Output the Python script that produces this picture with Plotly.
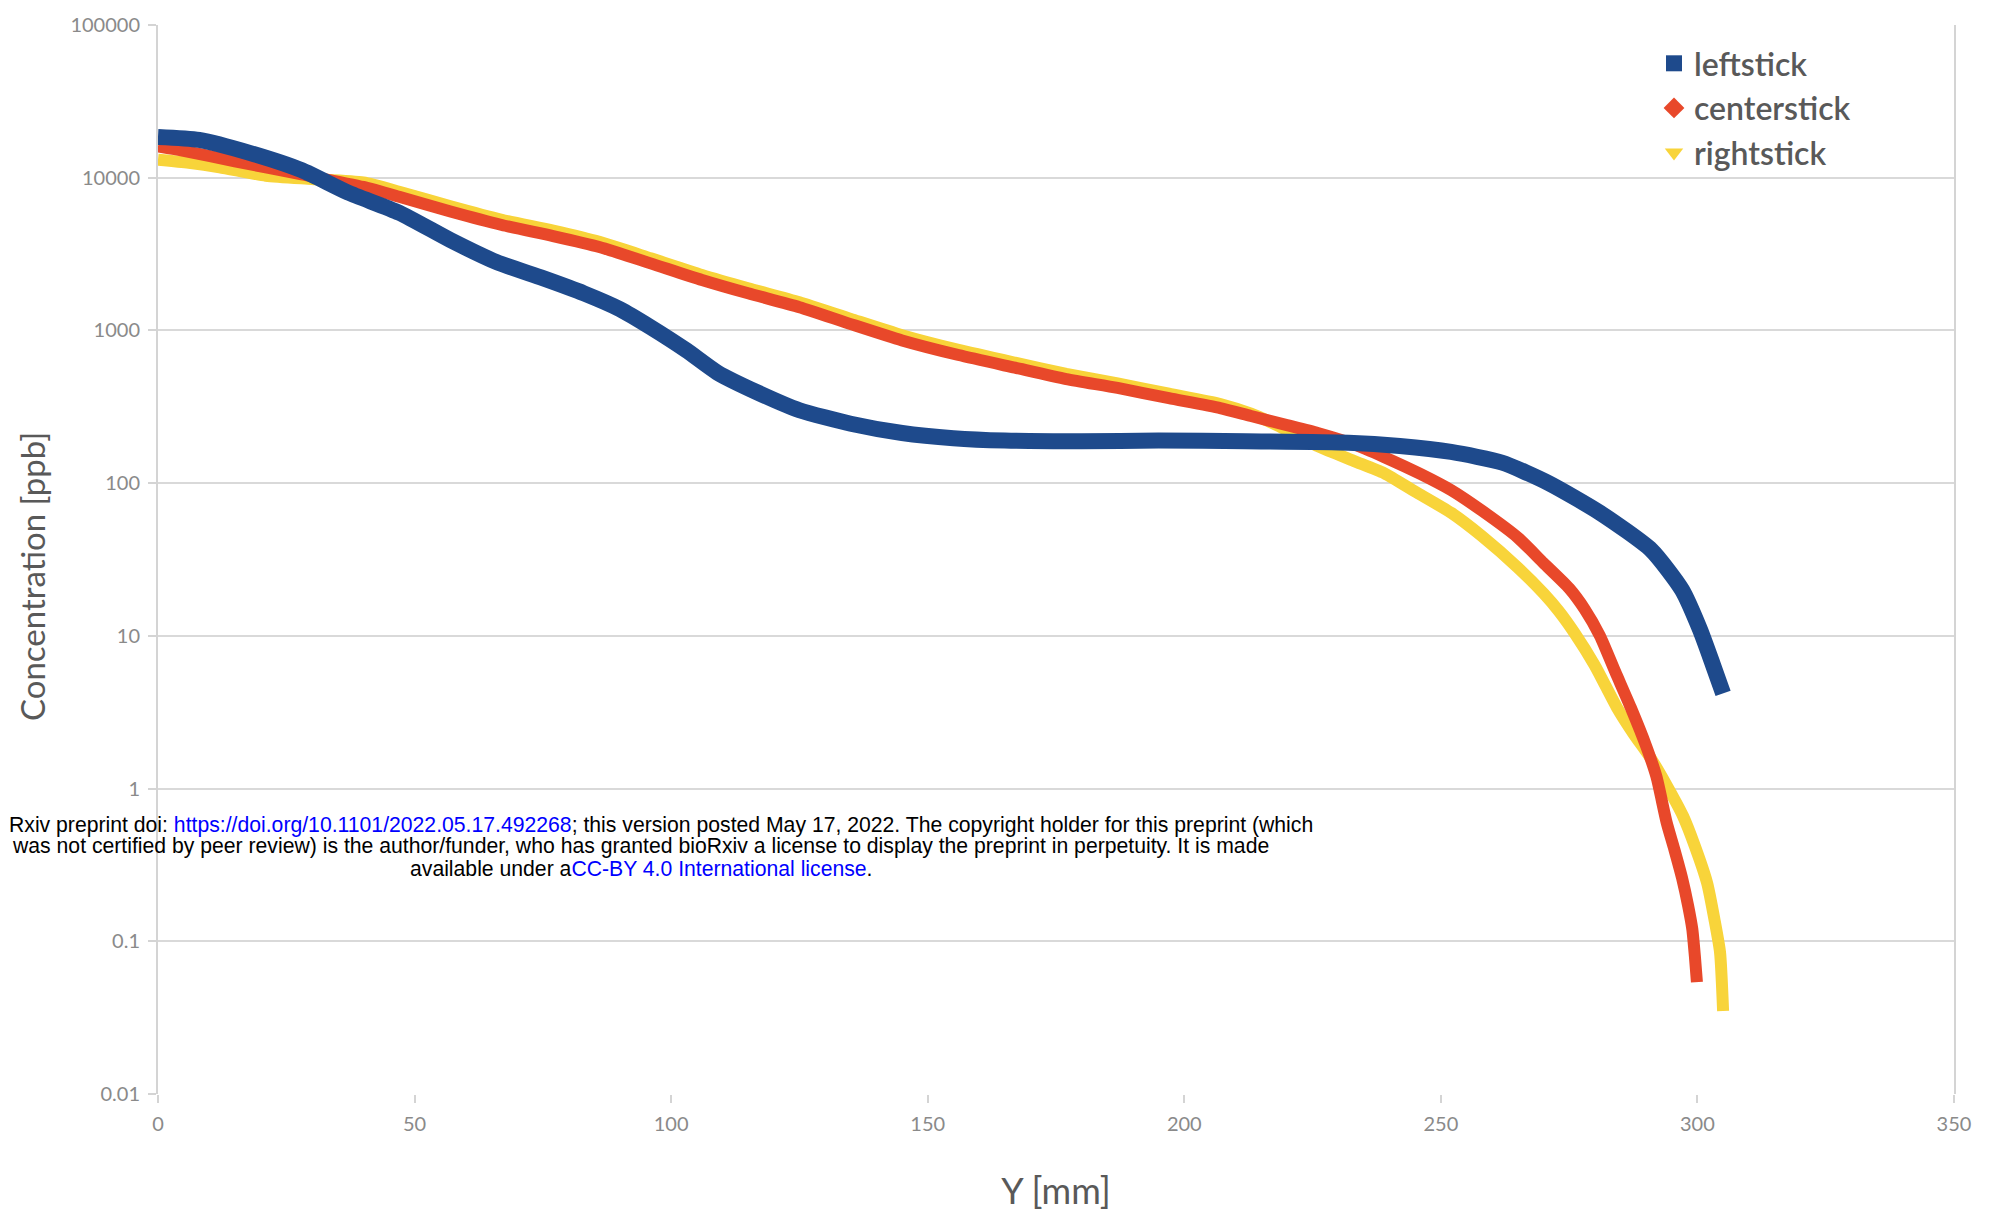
import plotly.graph_objects as go

# ---------------- data ----------------
series_names = ["leftstick", "centerstick", "rightstick"]

left_x = [0, 8, 18, 28, 37, 47, 57, 66, 75, 83, 90, 96, 103, 109, 117, 125, 135, 145, 155, 165,
          180, 195, 212, 232, 242, 252, 262, 271, 281, 291, 297, 300.5, 303, 305]
left_y = [18500, 17700, 14500, 11200, 8000, 5900, 3900, 2800, 2200, 1750, 1380, 1050, 740, 530, 390,
          300, 245, 213, 197, 190, 188, 190, 188, 184, 175, 160, 136, 100, 64, 36.5, 20, 11, 6.5, 4.2]

center_x = [0, 5, 15, 28, 40, 47, 57, 67, 77, 86, 96, 106, 115, 125, 135, 145, 156, 167, 177, 187,
            197, 207, 213, 220, 226, 233, 239, 246, 252, 258, 265, 270, 275, 278, 281, 284, 287,
            290, 292, 294, 295.5, 297, 298.2, 299, 299.5, 299.9]
center_y = [16000, 15000, 12800, 10500, 8700, 7500, 6000, 4900, 4150, 3520, 2750, 2140, 1750, 1420,
            1100, 860, 690, 570, 480, 420, 360, 310, 275, 240, 213, 180, 148, 115, 90, 66, 44, 30,
            20.5, 15, 10, 5.8, 3.4, 1.9, 1.2, 0.6, 0.4, 0.26, 0.17, 0.12, 0.08, 0.054]

right_x = [0, 6, 12, 21, 30, 40, 47, 57, 67, 77, 86, 96, 106, 115, 125, 135, 145, 156, 167, 177,
           187, 197, 207, 213, 218, 226, 233, 239, 245, 252, 258, 265, 270, 273, 276, 280, 284.3,
           287.5, 290.8, 294, 297.2, 299.5, 301.9, 303.3, 304.4, 305]
right_y = [13100, 12500, 11700, 10300, 9800, 9300, 8100, 6500, 5300, 4500, 3800, 2970, 2310, 1890,
           1530, 1190, 930, 745, 615, 520, 450, 385, 330, 285, 240, 175, 140, 116, 88, 64, 45, 28,
           19, 14.5, 10.5, 6.4, 3.4, 2.3, 1.6, 1.05, 0.66, 0.42, 0.24, 0.14, 0.085, 0.035]

x_tick_vals = [0, 50, 100, 150, 200, 250, 300, 350]
x_tick_text = ["0", "50", "100", "150", "200", "250", "300", "350"]
y_tick_vals = [0.01, 0.1, 1, 10, 100, 1000, 10000, 100000]
y_tick_text = ["0.01", "0.1", "1", "10", "100", "1000", "10000", "100000"]

x_title = "Y [mm]"
y_title = "Concentration [ppb]"

watermark_lines = [
    'Rxiv preprint doi: <span style="color:#0000ff">https://doi.org/10.1101/2022.05.17.492268</span>; '
    'this version posted May 17, 2022. The copyright holder for this preprint (which',
    'was not certified by peer review) is the author/funder, who has granted bioRxiv a license to '
    'display the preprint in perpetuity. It is made',
    'available under a<span style="color:#0000ff">CC-BY 4.0 International license</span>.',
]

# ---------------- styles ----------------
colors = {"leftstick": "#1E4A8C", "centerstick": "#E8482A", "rightstick": "#F8D43A"}
symbols = {"leftstick": "square", "centerstick": "diamond", "rightstick": "triangle-down"}
widths = {"leftstick": 16, "centerstick": 12, "rightstick": 12}
data = {
    "leftstick": (left_x, left_y),
    "centerstick": (center_x, center_y),
    "rightstick": (right_x, right_y),
}

W, H = 1990, 1216
BODY = 8  # default page margin around the plot div
ML, MR, MT, MB = 150, 44, 17, 130
PW, PH = W - ML - MR, H - MT - MB

fig = go.Figure()

# draw order: yellow at bottom, blue on top
for name in ["rightstick", "centerstick", "leftstick"]:
    xs, ys = data[name]
    fig.add_trace(go.Scatter(
        x=xs, y=ys, mode="lines", name=name, showlegend=False,
        line=dict(color=colors[name], width=widths[name], shape="spline", smoothing=0.6),
        hoverinfo="x+y+name",
    ))

# legend entries (markers only)
for name in series_names:
    fig.add_trace(go.Scatter(
        x=[None], y=[None], mode="markers", name=name, legendgroup=name,
        marker=dict(color=colors[name], symbol=symbols[name], size=18),
    ))


def px_x(page_x):
    return (page_x - BODY - ML) / PW


def px_y(page_y):
    return 1 - (page_y - BODY - MT) / PH


annotations = []
line_pos = [(7, 825), (10, 846), (408, 868)]
for txt, (xp, yp) in zip(watermark_lines, line_pos):
    annotations.append(dict(
        text=txt, xref="paper", yref="paper", x=px_x(xp), y=px_y(yp),
        xanchor="left", yanchor="middle", showarrow=False,
        font=dict(family="Liberation Sans, Arial, sans-serif", size=21.2, color="#000000"),
    ))

title_font = dict(family="Lato, sans-serif", size=33, color="#595959")
# y-axis title (placed as in the reference, slightly below the axis middle)
annotations.append(dict(
    text=y_title, xref="paper", yref="paper", x=px_x(32), y=px_y(577),
    xanchor="center", yanchor="middle", textangle=-90, showarrow=False,
    font=title_font,
))

tick_font = dict(family="Lato, sans-serif", size=20, color="#8a8a8a")

fig.update_layout(
    width=W, height=H,
    margin=dict(l=ML, r=MR, t=MT, b=MB, pad=0, autoexpand=False),
    paper_bgcolor="white", plot_bgcolor="white",
    showlegend=True,
    legend=dict(
        x=px_x(1654), y=px_y(36), xanchor="left", yanchor="top",
        font=dict(family="Lato, sans-serif", size=32, color="#595959", weight=600),
        bgcolor="rgba(255,255,255,0)", traceorder="grouped", tracegroupgap=0,
        itemwidth=30,
    ),
    xaxis=dict(
        range=[0, 350], tickvals=x_tick_vals, ticktext=x_tick_text,
        showgrid=False, zeroline=False, showline=False, automargin=False,
        ticks="outside", ticklen=8, tickwidth=2, tickcolor="#d4d4d4",
        tickfont=tick_font, ticklabelstandoff=4,
        title=dict(text=x_title, font=dict(family="Lato, sans-serif", size=36, color="#595959"),
                   standoff=44),
    ),
    yaxis=dict(
        type="log", range=[-2, 5], tickvals=y_tick_vals, ticktext=y_tick_text,
        showgrid=True, gridcolor="#d9d9d9", gridwidth=2, automargin=False,
        zeroline=False, showline=True, linecolor="#d4d4d4", linewidth=2, mirror=True,
        ticks="outside", ticklen=8, tickwidth=2, tickcolor="#d4d4d4",
        tickfont=tick_font, ticklabelstandoff=4,
    ),
    annotations=annotations,
)

fig.write_html("out.html")
